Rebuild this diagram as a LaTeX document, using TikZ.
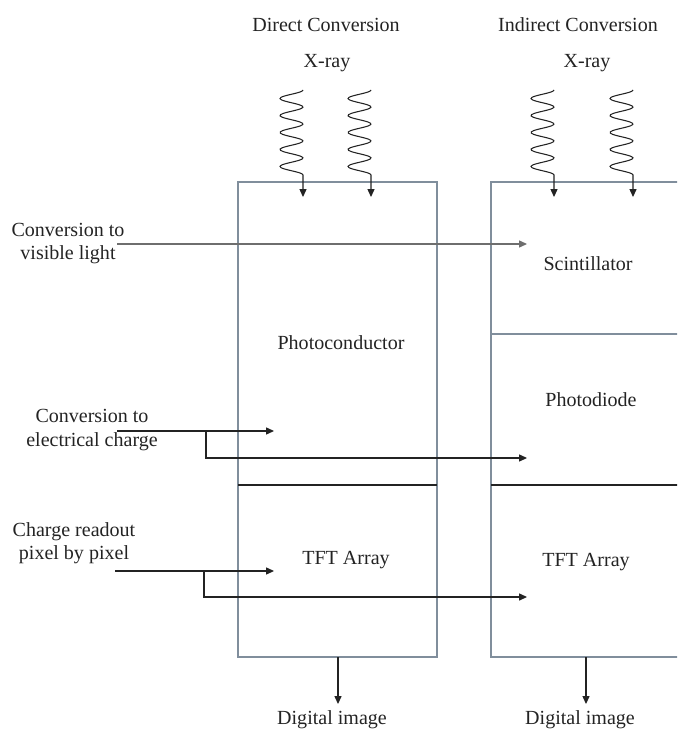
\documentclass[tikz,border=0pt]{standalone}
\usepackage{fontspec}
\setmainfont{Liberation Serif}
\usetikzlibrary{arrows.meta}
\definecolor{boxgray}{RGB}{128,142,156}
\definecolor{inkdark}{RGB}{35,35,35}
\definecolor{inklight}{RGB}{110,110,110}
\tikzset{
  lbl/.style={inner sep=0pt,align=center,text=inkdark,font=\fontsize{11.4}{13.2}\selectfont},
  layer/.style={draw=boxgray,line width=0.6pt},
  divider/.style={draw=inkdark,line width=0.8pt},
  feed/.style={draw=inkdark,line width=0.6pt,->},
  lightfeed/.style={draw=inklight,line width=0.6pt,->}
}
\begin{document}
\begin{tikzpicture}[x=0.02cm,y=-0.02cm,>={Triangle[length=4.5pt,width=4pt]},line width=0.6pt]
  \clip (0,0) rectangle (677,729);

  % detector stacks
  \coordinate (DA) at (238,182);
  \coordinate (DB) at (437,657);
  \coordinate (IA) at (491,182);
  \coordinate (IB) at (689,657);
  \draw[layer] (DA) rectangle (DB);
  \draw[layer] (IA) rectangle (IB);
  \draw[layer] (491,334) -- (689,334);
  \draw[divider] (238,485) -- (437,485);
  \draw[divider] (491,485) -- (689,485);

  % titles
  \node[lbl] (direct) at (326,25) {Direct Conversion};
  \node[lbl] (indirect) at (578,25) {Indirect Conversion};
  \node[lbl] (xrayD) at (327,63) {X-ray};
  \node[lbl] (xrayI) at (587,63) {X-ray};

  % incoming x-rays
  \foreach \xa in {303,371,554,633}
    \draw[feed] plot[domain=90:175,samples=70,smooth] ({\xa-11.5+11.5*cos(21.1765*(\x-90))},\x) -- (\xa,197);

  % layer names
  \node[lbl] (photocond) at (341,343) {Photoconductor};
  \node[lbl] (tftD) at (346,560) {TFT Array};
  \node[lbl] (scint) at (588,264) {Scintillator};
  \node[lbl] (photodiode) at (591,400) {Photodiode};
  \node[lbl] (tftI) at (586,562) {TFT Array};

  % process labels
  \node[lbl] (visible) at (68,243.5) {Conversion to\\visible light};
  \node[lbl] (charge) at (92,430) {Conversion to\\electrical charge};
  \node[lbl] (readout) at (74,543.5) {Charge readout\\pixel by pixel};

  \coordinate (visStart) at (117,244);
  \coordinate (visTip) at (527,244);
  \draw[lightfeed] (visStart) -- (visTip);

  \coordinate (elStart) at (117,431);
  \coordinate (elFork) at (206,431);
  \coordinate (elTipD) at (274,431);
  \coordinate (elTipI) at (527,458);
  \draw[feed] (elStart) -- (elTipD);
  \draw[feed] (elFork) |- (elTipI);

  \coordinate (roStart) at (115,571);
  \coordinate (roFork) at (204,571);
  \coordinate (roTipD) at (274,571);
  \coordinate (roTipI) at (527,597);
  \draw[feed] (roStart) -- (roTipD);
  \draw[feed] (roFork) |- (roTipI);

  % outputs
  \node[lbl] (digitalD) at (332,720) {Digital image};
  \node[lbl] (digitalI) at (580,720) {Digital image};
  \coordinate (outD) at (338,657);
  \coordinate (outI) at (586,657);
  \draw[feed] (outD) -- (338,704);
  \draw[feed] (outI) -- (586,704);
\end{tikzpicture}
\end{document}
